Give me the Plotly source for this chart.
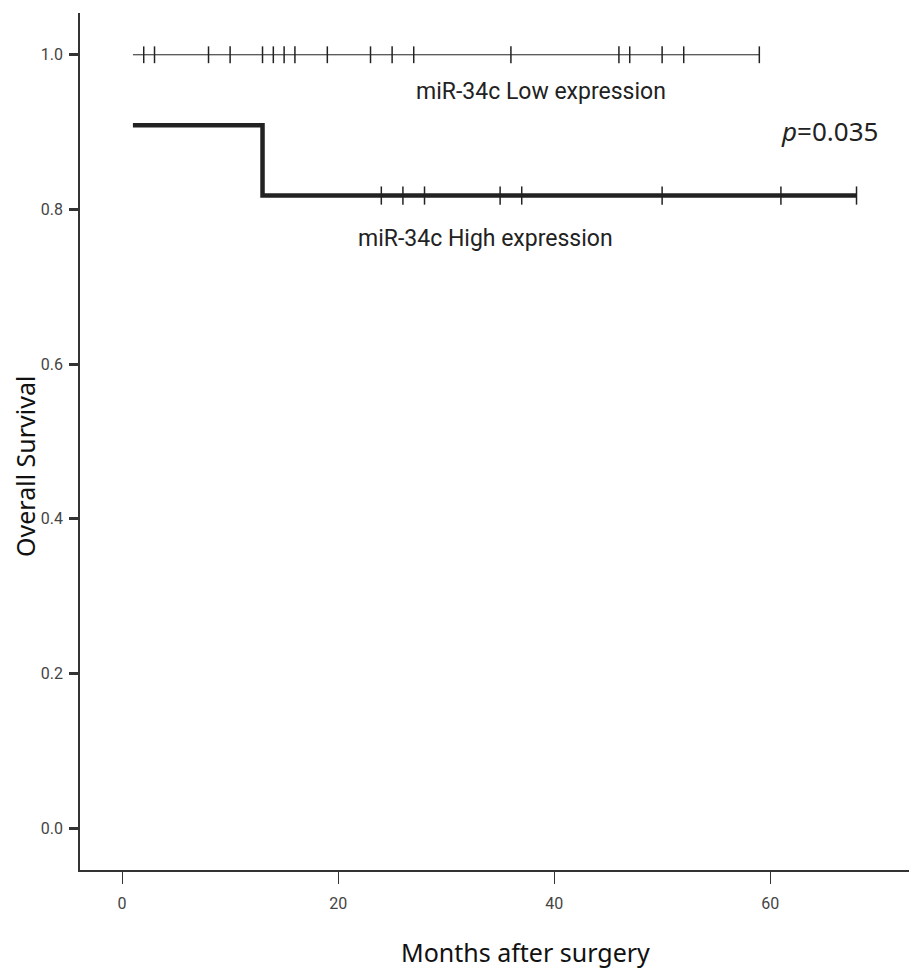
import plotly.graph_objects as go

# Data
low_censor = [2, 3, 8, 10, 13, 14, 15, 16, 19, 23, 25, 27, 36, 46, 47, 50, 52, 59]
low_x = [1, 59]
low_y = [1.0, 1.0]

high_x = [1, 13, 13, 68]
high_y = [0.909, 0.909, 0.818, 0.818]
high_censor = [24, 26, 28, 35, 37, 50, 61, 68]

x_ticks = [0, 20, 40, 60]
y_ticks = [0.0, 0.2, 0.4, 0.6, 0.8, 1.0]
y_ticklabels = ["0.0", "0.2", "0.4", "0.6", "0.8", "1.0"]

fig = go.Figure()
fig.add_trace(go.Scatter(x=low_x, y=low_y, mode="lines",
                         line=dict(color="#222222", width=1), showlegend=False))
fig.add_trace(go.Scatter(x=low_censor, y=[1.0] * len(low_censor), mode="markers",
                         marker=dict(symbol="line-ns", size=12, line=dict(color="#222222", width=1.5)),
                         showlegend=False))
fig.add_trace(go.Scatter(x=high_x, y=high_y, mode="lines",
                         line=dict(color="#222222", width=4.5), showlegend=False))
fig.add_trace(go.Scatter(x=high_censor, y=[0.818] * len(high_censor), mode="markers",
                         marker=dict(symbol="line-ns", size=13, line=dict(color="#222222", width=1.5)),
                         showlegend=False))

label_font = dict(family="Roboto", size=23, color="#222222")
fig.add_annotation(x=38.8, y=0.953, text="miR-34c Low expression", showarrow=False, font=label_font)
fig.add_annotation(x=33.6, y=0.762, text="miR-34c High expression", showarrow=False, font=label_font)
fig.add_annotation(x=65.5, y=0.902, text="<i>p</i>=0.035", showarrow=False,
                   font=dict(family="Noto Sans", size=26, color="#222222"))

title_font = dict(family="Noto Sans", size=25, color="#111111")
fig.add_annotation(xref="paper", yref="paper", x=(525 - 80) / 837, y=(870 - 952) / 857,
                   xanchor="center", yanchor="middle",
                   text="Months after surgery", showarrow=False, font=title_font)
fig.add_annotation(xref="paper", yref="paper", x=(25 - 80) / 837, y=(870 - 467) / 857,
                   xanchor="center", yanchor="middle",
                   text="Overall Survival", showarrow=False, textangle=-90, font=title_font)

tick_font = dict(family="Roboto", size=16, color="#444444")
fig.update_xaxes(range=[-3.9, 73.6], tickvals=x_ticks, ticks="outside", ticklen=12, tickwidth=1,
                 tickcolor="#333333", showline=True, linecolor="#333333", linewidth=1.5,
                 showgrid=False, zeroline=False, tickfont=tick_font, automargin=False,
                 ticklabelstandoff=6)
fig.update_yaxes(range=[-0.054, 1.054], tickvals=y_ticks, ticktext=y_ticklabels,
                 ticks="outside", ticklen=9, tickwidth=2.5,
                 tickcolor="#333333", showline=True, linecolor="#333333", linewidth=1.5,
                 showgrid=False, zeroline=False, tickfont=tick_font, automargin=False,
                 ticklabelstandoff=3)
fig.update_layout(width=917, height=969, margin=dict(l=72, r=8, t=5, b=107),
                  plot_bgcolor="white", paper_bgcolor="white")
fig.write_html("out.html")
